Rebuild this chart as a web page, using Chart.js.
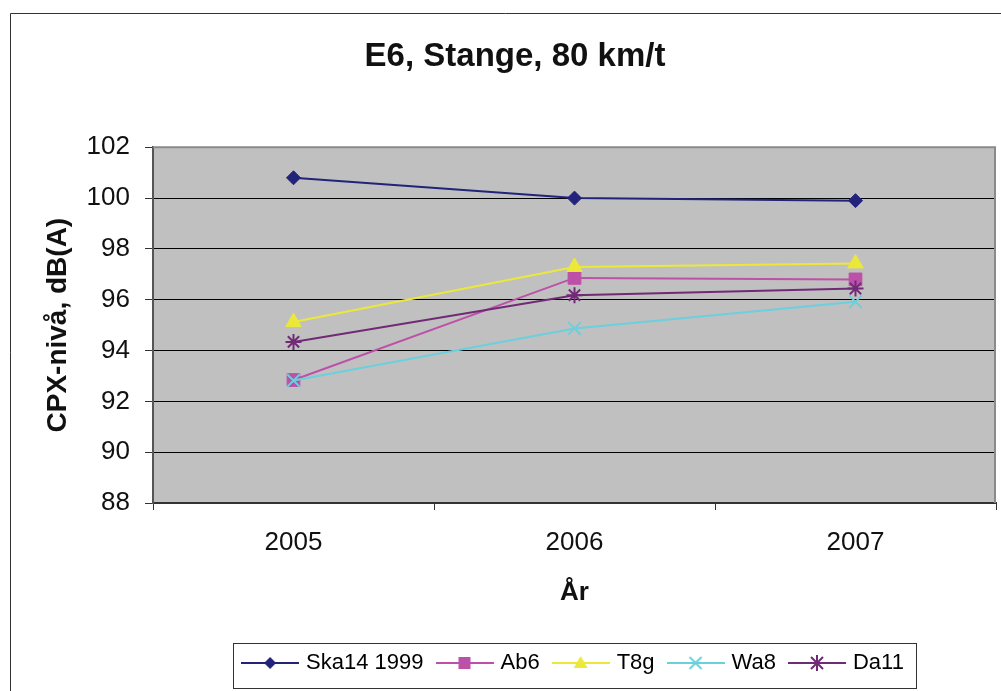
<!DOCTYPE html>
<html><head><meta charset="utf-8">
<script src="https://cdn.jsdelivr.net/npm/chart.js@4.4.0/dist/chart.umd.min.js"></script>
<style>html,body{margin:0;padding:0;background:#fff;overflow:hidden}</style>
</head><body>
<canvas id="c" width="1001" height="691"></canvas>
<script>
const categories = ['2005', '2006', '2007'];
const seriesNames = ['Ska14 1999', 'Ab6', 'T8g', 'Wa8', 'Da11'];
const ska14 = [100.8, 100.0, 99.9];
const ab6 = [92.84, 96.86, 96.8];
const t8g = [95.12, 97.29, 97.43];
const wa8 = [92.82, 94.87, 95.92];
const da11 = [94.34, 96.18, 96.44];
const yMin = 88, yMax = 102, yStep = 2;

const colors = ['#22237a', '#bd50a8', '#ecE83a', '#6ccfdc', '#702a76'];
const styles = ['rectRot', 'rect', 'triangle', 'crossRot', 'star'];
const radii = [7, 9, 9, 9, 8];
const values = [ska14, ab6, t8g, wa8, da11];

const FONT = "'Liberation Sans', Arial, sans-serif";

function makeIcon(i) {
  const cv = document.createElement('canvas');
  cv.width = 58; cv.height = 24;
  const g = cv.getContext('2d');
  const c = colors[i];
  g.strokeStyle = c; g.fillStyle = c; g.lineWidth = 2;
  g.beginPath(); g.moveTo(0, 12); g.lineTo(58, 12); g.stroke();
  const x = 29, y = 12;
  g.beginPath();
  switch (styles[i]) {
    case 'rectRot':
      g.moveTo(x - 6, y); g.lineTo(x, y - 6); g.lineTo(x + 6, y); g.lineTo(x, y + 6); g.closePath(); g.fill(); break;
    case 'rect':
      g.rect(x - 6, y - 6, 12, 12); g.fill(); break;
    case 'triangle':
      g.moveTo(x, y - 7); g.lineTo(x + 7, y + 5); g.lineTo(x - 7, y + 5); g.closePath(); g.fill(); break;
    case 'crossRot':
      g.moveTo(x - 6, y - 6); g.lineTo(x + 6, y + 6); g.moveTo(x + 6, y - 6); g.lineTo(x - 6, y + 6); g.stroke(); break;
    case 'star':
      g.moveTo(x - 6, y - 6); g.lineTo(x + 6, y + 6); g.moveTo(x + 6, y - 6); g.lineTo(x - 6, y + 6);
      g.moveTo(x, y - 8); g.lineTo(x, y + 8); g.stroke(); break;
  }
  return cv;
}
const icons = seriesNames.map((n, i) => makeIcon(i));

const datasets = seriesNames.map((name, i) => ({
  label: name,
  data: values[i],
  borderColor: colors[i],
  backgroundColor: colors[i],
  borderWidth: 2,
  pointStyle: styles[i],
  pointRadius: radii[i],
  pointHoverRadius: radii[i],
  pointBackgroundColor: colors[i],
  pointBorderColor: colors[i],
  pointBorderWidth: (styles[i] === 'crossRot' || styles[i] === 'star') ? 2 : 1,
  tension: 0,
  fill: false,
  order: seriesNames.length - i
}));

const decor = {
  id: 'decor',
  beforeDraw(chart) {
    const {ctx, chartArea: a} = chart;
    ctx.save();
    ctx.fillStyle = '#c0c0c0';
    ctx.fillRect(a.left, a.top, a.right - a.left, a.bottom - a.top);
    ctx.restore();
  },
  afterDraw(chart) {
    const {ctx, chartArea: a} = chart;
    ctx.save();
    ctx.strokeStyle = '#8a8a8a'; ctx.lineWidth = 2;
    ctx.beginPath();
    ctx.moveTo(a.left, a.top); ctx.lineTo(a.right - 1, a.top); ctx.lineTo(a.right - 1, a.bottom);
    ctx.stroke();
    ctx.strokeStyle = '#333'; ctx.lineWidth = 1;
    ctx.beginPath();
    ctx.moveTo(10.5, 691); ctx.lineTo(10.5, 13.5); ctx.lineTo(1001, 13.5);
    ctx.stroke();
    const lg = chart.legend;
    if (lg && lg.legendHitBoxes && lg.legendHitBoxes.length) {
      const hb = lg.legendHitBoxes;
      let l = Infinity, r = -Infinity;
      hb.forEach(h => { l = Math.min(l, h.left); r = Math.max(r, h.left + h.width); });
      const L = Math.round(l - 12) + 0.5, R = Math.round(r + 12) + 0.5;
      const T = Math.round(lg.top + 7) + 0.5, B = Math.round(lg.bottom + 5) - 0.5;
      ctx.strokeStyle = '#333'; ctx.lineWidth = 1;
      ctx.strokeRect(L, T, R - L, B - T);
    }
    ctx.restore();
  }
};

new Chart(document.getElementById('c'), {
  type: 'line',
  data: { labels: categories, datasets },
  options: {
    responsive: false,
    animation: false,
    devicePixelRatio: 1,
    layout: { autoPadding: false, padding: { top: 14, left: 34, right: 5, bottom: 7 } },
    plugins: {
      title: {
        display: true,
        text: 'E6, Stange, 80 km/t',
        color: '#111',
        font: { family: FONT, size: 33, weight: 'bold' },
        padding: { top: 23, bottom: 70.7 }
      },
      legend: {
        position: 'bottom',
        fullSize: false,
        labels: {
          usePointStyle: true,
          pointStyleWidth: 50,
          padding: 16,
          color: '#111',
          font: { family: FONT, size: 22 },
          generateLabels(chart) {
            return chart.data.datasets.map((ds, i) => ({
              text: ds.label,
              pointStyle: icons[i],
              fillStyle: ds.borderColor,
              strokeStyle: ds.borderColor,
              lineWidth: 0,
              hidden: false,
              datasetIndex: i
            }));
          }
        }
      },
      tooltip: { enabled: false }
    },
    scales: {
      x: {
        type: 'category',
        offset: true,
        grid: { offset: true, drawOnChartArea: false, tickLength: 7, color: '#333', lineWidth: 1 },
        border: { color: '#333', width: 2 },
        ticks: { color: '#111', padding: 17, font: { family: FONT, size: 26 } },
        title: { display: true, text: 'År', color: '#111', font: { family: FONT, size: 26, weight: 'bold' }, padding: { top: 0, bottom: 28 } },
        afterFit(s) { s.height = 133; s.paddingLeft = 0; s.paddingRight = 0; }
      },
      y: {
        min: yMin, max: yMax,
        ticks: { stepSize: yStep, color: '#111', padding: 15, font: { family: FONT, size: 26 } },
        grid: { color: '#000', lineWidth: 1, tickLength: 8, tickColor: '#333' },
        border: { color: '#555', width: 2 },
        title: { display: true, text: 'CPX-nivå, dB(A)', color: '#111', font: { family: FONT, size: 28, weight: 'bold' }, padding: { top: 7, bottom: 0 } },
        afterFit(s) { s.width = 119; }
      }
    }
  },
  plugins: [decor]
});
</script>
</body></html>
